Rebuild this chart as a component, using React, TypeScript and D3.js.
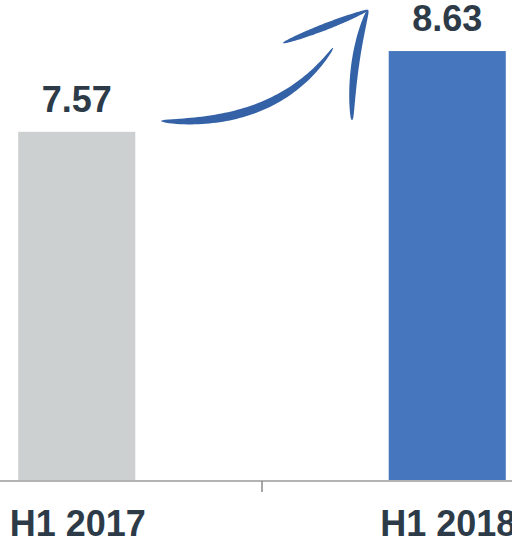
import React from "react";
import * as d3 from "d3";

const categories = ["H1 2017", "H1 2018"];
const values = [7.57, 8.63];
const valueLabels = ["7.57", "8.63"];
const barColors = ["#cdd0d0", "#4677be"];
const yDomain = [3, 9.3];

const W = 512;
const H = 542;
const baseY = 480;

type Pt = [number, number];

function taperedQuad(p0: Pt, c: Pt, p2: Pt, maxW: number, profile: (t: number) => number): string {
  const n = 60;
  const top: Pt[] = [];
  const bot: Pt[] = [];
  for (let i = 0; i <= n; i++) {
    const t = i / n;
    const mt = 1 - t;
    const x = mt * mt * p0[0] + 2 * mt * t * c[0] + t * t * p2[0];
    const y = mt * mt * p0[1] + 2 * mt * t * c[1] + t * t * p2[1];
    const dx = 2 * mt * (c[0] - p0[0]) + 2 * t * (p2[0] - c[0]);
    const dy = 2 * mt * (c[1] - p0[1]) + 2 * t * (p2[1] - c[1]);
    const len = Math.hypot(dx, dy) || 1;
    const nx = -dy / len;
    const ny = dx / len;
    const w = (maxW * profile(t)) / 2;
    top.push([x + nx * w, y + ny * w]);
    bot.push([x - nx * w, y - ny * w]);
  }
  const pts = top.concat(bot.reverse());
  return d3.line().curve(d3.curveLinearClosed)(pts) || "";
}

export default function App() {
  const x = d3
    .scaleBand<string>()
    .domain(categories)
    .range([-108.5, 632.5])
    .paddingInner(0.684)
    .paddingOuter(0.342);
  const y = d3.scaleLinear().domain(yDomain).range([baseY, 0]);
  const mid = (x(categories[0])! + x.bandwidth() / 2 + x(categories[1])! + x.bandwidth() / 2) / 2;

  const arrowColor = "#2a5aa2";
  const shaft = taperedQuad([161, 121], [278, 127], [333, 48], 10, (t) =>
    Math.pow(Math.sin(Math.PI * Math.min(1, t)), 0.5) * (1 - 0.45 * t) + 0.06
  );
  const barbL = taperedQuad([283, 43], [325, 27], [368, 10], 6, (t) =>
    Math.pow(Math.sin(Math.PI * t), 0.6) + 0.12
  );
  const barbR = taperedQuad([368, 10], [351, 60], [352, 120], 7, (t) =>
    Math.pow(Math.sin(Math.PI * t), 0.5) + 0.12
  );

  const font = "'Liberation Sans', Arial, sans-serif";
  const textColor = "#2d3b49";

  return (
    <svg
      width={W}
      height={H}
      style={{ position: "absolute", left: 0, top: 0, background: "#fff" }}
    >
      {categories.map((c, i) => (
        <rect
          key={c}
          x={x(c)!}
          y={y(values[i])}
          width={x.bandwidth()}
          height={baseY - y(values[i])}
          fill={barColors[i]}
        />
      ))}
      {categories.map((c, i) => (
        <text
          key={"v" + c}
          x={x(c)! + x.bandwidth() / 2}
          y={y(values[i]) - 20}
          textAnchor="middle"
          fontFamily={font}
          fontWeight="bold"
          fontSize={36}
          fill={textColor}
        >
          {valueLabels[i]}
        </text>
      ))}
      <line x1={0} x2={W} y1={baseY + 1} y2={baseY + 1} stroke="#9a9a9a" strokeWidth={1.5} />
      <line x1={mid} x2={mid} y1={baseY + 1} y2={baseY + 12} stroke="#8a8a8a" strokeWidth={1.5} />
      {categories.map((c) => (
        <text
          key={"l" + c}
          x={x(c)! + x.bandwidth() / 2 + 1}
          y={536}
          textAnchor="middle"
          fontFamily={font}
          fontWeight="bold"
          fontSize={36}
          fill={textColor}
        >
          {c}
        </text>
      ))}
      <g fill={arrowColor} opacity={0.95}>
        <path d={shaft} />
        <path d={barbL} />
        <path d={barbR} />
      </g>
    </svg>
  );
}
